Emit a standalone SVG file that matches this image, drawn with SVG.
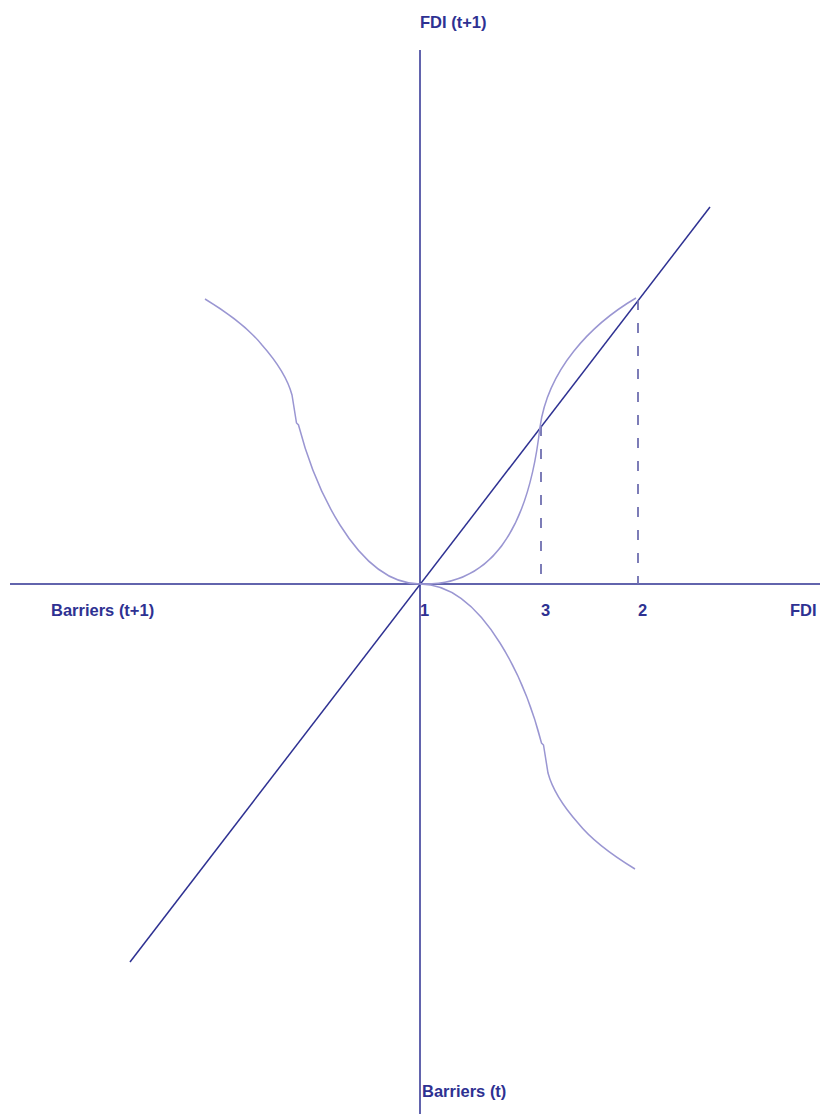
<svg xmlns="http://www.w3.org/2000/svg" width="820" height="1114" viewBox="0 0 820 1114">
<style>
.axis{stroke:#2e3192;stroke-width:1.5;fill:none}
.curve{stroke:#9a96d2;stroke-width:1.5;fill:none}
.dash{stroke:#6f6fb0;stroke-width:1.8;stroke-dasharray:10 13;fill:none}
.lbl{font-family:"Liberation Sans",Arial,sans-serif;font-weight:bold;font-size:16.5px;fill:#2e3192}
</style>
<rect width="820" height="1114" fill="#fff"/>
<g id="connectors">
<line class="axis" x1="420" y1="50" x2="420" y2="1114"/>
<line class="axis" x1="10" y1="584" x2="820" y2="584"/>
<line class="axis" x1="130" y1="962" x2="710" y2="207"/>
<line class="dash" x1="541" y1="426" x2="541" y2="584"/>
<line class="dash" x1="638" y1="300" x2="638" y2="584"/>
</g>
<g id="curve-upper-left">
<path class="curve" d="M205,299 C228,313 250,330 262,345 C277,362 288,380 292,395 L296.5,423 L298.5,425 C305,450 318,490 340,525 C365,565 392,584 420,584"/>
</g>
<g id="curve-lower-right">
<path class="curve" transform="rotate(180 420 584)" d="M205,299 C228,313 250,330 262,345 C277,362 288,380 292,395 L296.5,423 L298.5,425 C305,450 318,490 340,525 C365,565 392,584 420,584"/>
</g>
<g id="curve-upper-right">
<path class="curve" d="M420,584 C470,586 525,560 540,427 C548,370 590,325 636,298"/>
</g>
<g id="label-fdi-t1"><text class="lbl" x="420" y="28">FDI (t+1)</text></g>
<g id="label-barriers-t1"><text class="lbl" x="51" y="616">Barriers (t+1)</text></g>
<g id="label-1"><text class="lbl" x="420" y="616">1</text></g>
<g id="label-3"><text class="lbl" x="541" y="616">3</text></g>
<g id="label-2"><text class="lbl" x="638" y="616">2</text></g>
<g id="label-fdi"><text class="lbl" x="790" y="616">FDI</text></g>
<g id="label-barriers-t"><text class="lbl" x="422" y="1097">Barriers (t)</text></g>
</svg>
